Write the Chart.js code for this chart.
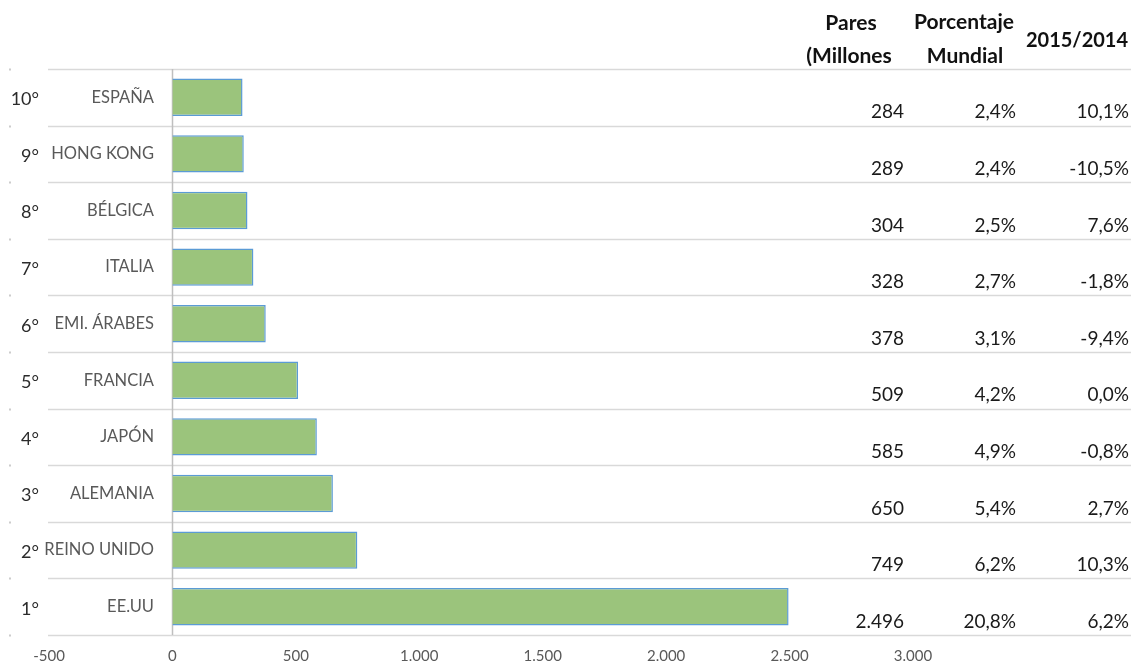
<!DOCTYPE html>
<html>
<head>
<meta charset="utf-8">
<script src="https://cdn.jsdelivr.net/npm/chart.js@4/dist/chart.umd.min.js"></script>
<style>
  body { margin: 0; background: #fff; }
  #wrap { width: 1142px; height: 669px; position: relative; }
</style>
</head>
<body>
<div id="wrap"><canvas id="myChart"></canvas></div>
<script>
var ranks = ['10°', '9°', '8°', '7°', '6°', '5°', '4°', '3°', '2°', '1°'];
var countries = ['ESPAÑA', 'HONG KONG', 'BÉLGICA', 'ITALIA', 'EMI. ÁRABES', 'FRANCIA', 'JAPÓN', 'ALEMANIA', 'REINO UNIDO', 'EE.UU'];
var pares = [284, 289, 304, 328, 378, 509, 585, 650, 749, 2496];
var porcentaje = ['2,4%', '2,4%', '2,5%', '2,7%', '3,1%', '4,2%', '4,9%', '5,4%', '6,2%', '20,8%'];
var variacion = ['10,1%', '-10,5%', '7,6%', '-1,8%', '-9,4%', '0,0%', '-0,8%', '2,7%', '10,3%', '6,2%'];
var xMin = -500, xMax = 3000, xStep = 500;

function miles(v) {
    var s = String(Math.abs(v)).replace(/\B(?=(\d{3})+(?!\d))/g, '.');
    return (v < 0 ? '-' : '') + s;
}

// lines, labels and the side table
var tablePlugin = {
    id: 'tablePlugin',
    beforeDatasetsDraw: function (chart) {
        var ctx = chart.ctx, area = chart.chartArea;
        var n = countries.length, h = (area.bottom - area.top) / n;
        ctx.save();
        ctx.strokeStyle = '#d9d9d9';
        ctx.lineWidth = 1.5;
        for (var i = 0; i <= n; i++) {
            var y = Math.round(area.top + i * h) + 0.5;
            ctx.beginPath();
            ctx.moveTo(48, y);
            ctx.lineTo(1131, y);
            ctx.stroke();
            ctx.fillStyle = '#cccccc';
            ctx.fillRect(9, y - 1, 2, 2);
        }
        var x0 = Math.round(chart.scales.x.getPixelForValue(0)) + 0.5;
        ctx.strokeStyle = '#bfbfbf';
        ctx.beginPath();
        ctx.moveTo(x0, area.top);
        ctx.lineTo(x0, area.bottom);
        ctx.stroke();
        ctx.restore();
    },
    afterDraw: function (chart) {
        var ctx = chart.ctx, yScale = chart.scales.y;
        ctx.save();
        ctx.textBaseline = 'middle';
        for (var i = 0; i < countries.length; i++) {
            var y = yScale.getPixelForValue(i);
            ctx.font = '18px Lato';
            ctx.fillStyle = '#2b2b2b';
            ctx.textAlign = 'right';
            ctx.fillText(ranks[i], 39, y + 2);
            ctx.font = '16.5px Lato';
            ctx.fillStyle = '#595959';
            ctx.fillText(countries[i], 154, y);
            ctx.font = '19px Lato';
            ctx.fillStyle = '#1a1a1a';
            ctx.fillText(miles(pares[i]), 904, y + 15);
            ctx.fillText(porcentaje[i], 1016, y + 15);
            ctx.fillText(variacion[i], 1129, y + 15);
        }
        ctx.font = 'bold 21px Lato';
        ctx.fillStyle = '#111111';
        ctx.textAlign = 'center';
        ctx.fillText('Pares', 851, 23);
        ctx.fillText('(Millones', 849, 56);
        ctx.fillText('Porcentaje', 964, 22);
        ctx.fillText('Mundial', 965, 56);
        ctx.font = 'bold 20px Lato';
        ctx.fillText('2015/2014', 1077, 41);
        ctx.restore();
    }
};

var ctx = document.getElementById('myChart').getContext('2d');
var myChart = new Chart(ctx, {
    type: 'bar',
    data: {
        labels: countries,
        datasets: [{
            data: pares,
            backgroundColor: '#9bc47c',
            borderColor: '#5b9bd5',
            borderWidth: 1.5,
            borderSkipped: 'start',
            categoryPercentage: 1,
            barPercentage: 0.66
        }]
    },
    options: {
        indexAxis: 'y',
        responsive: true,
        maintainAspectRatio: false,
        animation: false,
        layout: { padding: { left: 49, right: 229, top: 69, bottom: 0 } },
        plugins: {
            legend: { display: false },
            tooltip: { enabled: false }
        },
        scales: {
            y: { display: false },
            x: {
                min: xMin,
                max: xMax,
                grid: { display: false, drawTicks: false },
                border: { display: false },
                afterFit: function (scale) { scale.height = 34; },
                ticks: {
                    stepSize: xStep,
                    autoSkip: false,
                    maxRotation: 0,
                    padding: 12,
                    color: '#595959',
                    font: { family: 'Lato', size: 15 },
                    callback: function (v) { return miles(v); }
                }
            }
        }
    },
    plugins: [tablePlugin]
});
</script>
</body>
</html>
